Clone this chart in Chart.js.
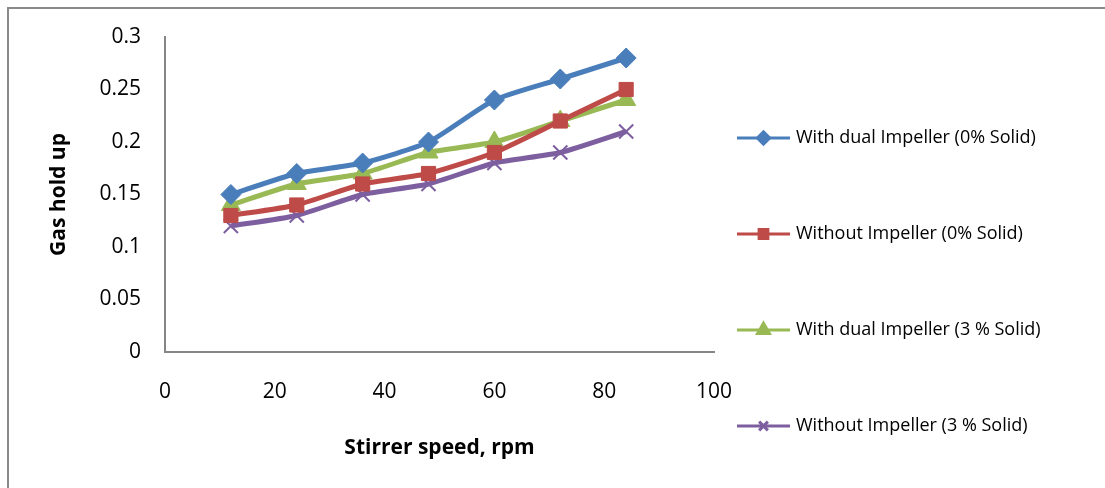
<!DOCTYPE html>
<html>
<head>
<meta charset="utf-8">
<script src="https://cdn.jsdelivr.net/npm/chart.js@4/dist/chart.umd.min.js"></script>
<style>
  html, body { margin: 0; padding: 0; background: #fff; }
  #wrap { width: 1105px; height: 488px; position: relative; }
</style>
</head>
<body>
<div id="wrap"><canvas id="holdupChart" width="1105" height="488"></canvas></div>
<script>
const speeds = [12, 24, 36, 48, 60, 72, 84];
const dualNoSolid = [0.15, 0.17, 0.18, 0.20, 0.24, 0.26, 0.28];
const noImpNoSolid = [0.13, 0.14, 0.16, 0.17, 0.19, 0.22, 0.25];
const dualSolid = [0.14, 0.16, 0.17, 0.19, 0.20, 0.22, 0.24];
const noImpSolid = [0.12, 0.13, 0.15, 0.16, 0.18, 0.19, 0.21];
const seriesNames = [
    'With dual Impeller (0% Solid)',
    'Without Impeller (0% Solid)',
    'With dual Impeller (3 % Solid)',
    'Without Impeller (3 % Solid)'
];

const FONT = "'Open Sans', 'Liberation Sans', sans-serif";

function pts(values) {
    return speeds.map((s, i) => ({ x: s, y: values[i] }));
}

function series(label, values, color, style, radius) {
    return {
        label: label,
        data: pts(values),
        borderColor: color,
        backgroundColor: color,
        borderWidth: 5,
        pointStyle: style,
        pointRadius: radius,
        pointBorderWidth: style === 'crossRot' ? 2 : 1,
        pointBorderColor: color,
        tension: 0.2
    };
}

// frame around the whole picture (only top/left edge shows)
const framePlugin = {
    id: 'frame',
    beforeDraw(chart) {
        const c = chart.ctx;
        c.save();
        c.fillStyle = '#fff';
        c.fillRect(0, 0, chart.width, chart.height);
        c.strokeStyle = '#8a8a8a';
        c.lineWidth = 2;
        c.beginPath();
        c.moveTo(8, chart.height);
        c.lineTo(8, 8);
        c.lineTo(chart.width, 8);
        c.stroke();
        c.restore();
    }
};

// Excel-style legend: line with marker in the middle, items spread down the right side
const legendPlugin = {
    id: 'sideLegend',
    afterDraw(chart) {
        const c = chart.ctx;
        const x0 = 737, x1 = 790;
        const tops = [138, 234, 330, 426];
        c.save();
        chart.data.datasets.forEach((ds, i) => {
            const y = tops[i];
            c.strokeStyle = ds.borderColor;
            c.lineWidth = 3;
            c.beginPath();
            c.moveTo(x0, y);
            c.lineTo(x1, y);
            c.stroke();
            c.fillStyle = ds.borderColor;
            Chart.helpers.drawPoint(c, {
                pointStyle: ds.pointStyle,
                radius: ds.pointRadius * 0.62,
                borderWidth: ds.pointBorderWidth
            }, (x0 + x1) / 2, y);
            c.fillStyle = '#000';
            c.font = '18px ' + FONT;
            c.textBaseline = 'middle';
            c.textAlign = 'left';
            c.fillText(ds.label, 796, y);
        });
        c.restore();
    }
};

new Chart(document.getElementById('holdupChart'), {
    type: 'line',
    data: {
        datasets: [
            series(seriesNames[0], dualNoSolid, '#4a7ebb', 'rectRot', 10),
            series(seriesNames[1], noImpNoSolid, '#be4b48', 'rect', 10),
            series(seriesNames[2], dualSolid, '#98b954', 'triangle', 11),
            series(seriesNames[3], noImpSolid, '#7d5fa0', 'crossRot', 10)
        ]
    },
    options: {
        responsive: false,
        animation: false,
        layout: { padding: { top: 37, right: 391, bottom: 0, left: 0 } },
        plugins: {
            legend: { display: false },
            tooltip: { enabled: false }
        },
        scales: {
            x: {
                type: 'linear',
                min: 0,
                max: 100,
                ticks: { stepSize: 20, padding: 27, color: '#000', font: { family: FONT, size: 21 } },
                grid: { display: false, drawTicks: false },
                border: { color: '#868686', width: 2 },
                title: {
                    display: true,
                    text: 'Stirrer speed, rpm',
                    color: '#000',
                    font: { family: FONT, size: 21, weight: 'bold' },
                    padding: { top: 0, bottom: 27 }
                },
                afterFit(axis) { axis.height = 136; }
            },
            y: {
                min: 0,
                max: 0.3,
                ticks: {
                    stepSize: 0.05,
                    padding: 24,
                    color: '#000',
                    font: { family: FONT, size: 21 },
                    callback: v => String(+v.toFixed(2))
                },
                grid: { display: false, drawTicks: false },
                border: { color: '#868686', width: 2 },
                title: {
                    display: true,
                    text: 'Gas hold up',
                    color: '#000',
                    font: { family: FONT, size: 21, weight: 'bold' },
                    padding: { top: 46, bottom: 0 }
                },
                afterFit(axis) { axis.width = 165; }
            }
        }
    },
    plugins: [framePlugin, legendPlugin]
});
</script>
</body>
</html>
